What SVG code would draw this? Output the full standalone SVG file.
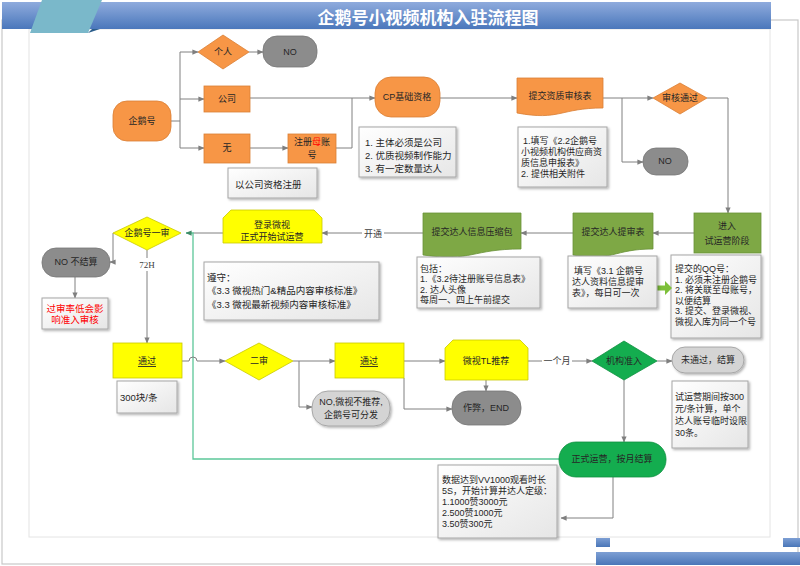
<svg xmlns="http://www.w3.org/2000/svg" width="800" height="566" viewBox="0 0 800 566">
<defs>
<linearGradient id="gtitle" x1="0" y1="0" x2="0" y2="1"><stop offset="0" stop-color="#8fabdd"/><stop offset="1" stop-color="#4a77bb"/></linearGradient>
<linearGradient id="gbox" x1="0" y1="0" x2="1" y2="1"><stop offset="0" stop-color="#ffffff"/><stop offset="1" stop-color="#e6e6e6"/></linearGradient>
<linearGradient id="gdeco" x1="0" y1="0" x2="0" y2="1"><stop offset="0" stop-color="#7d9fd4"/><stop offset="1" stop-color="#4a76b8"/></linearGradient>
<filter id="sh" x="-10%" y="-10%" width="130%" height="130%"><feDropShadow dx="1.5" dy="1.5" stdDeviation="1.2" flood-color="#000" flood-opacity="0.3"/></filter>
<marker id="ah" viewBox="0 0 8 8" refX="7.5" refY="4" markerWidth="6" markerHeight="6" orient="auto" markerUnits="userSpaceOnUse"><path d="M0,0.5 L8,4 L0,7.5 Z" fill="#7f7f7f"/></marker>
<marker id="ahg" viewBox="0 0 8 8" refX="7.5" refY="4" markerWidth="6" markerHeight="6" orient="auto" markerUnits="userSpaceOnUse"><path d="M0,0.5 L8,4 L0,7.5 Z" fill="#3f8a68"/></marker>
</defs>
<style>
.ln{stroke:#808080;stroke-width:1;fill:none}
.ar{marker-end:url(#ah)}
.gl{stroke:#5cc799;stroke-width:1.3;fill:none}
.or{fill:#f79646;stroke:#d97f35;stroke-width:0.8}
.ye{fill:#ffff00;stroke:#c9c900;stroke-width:0.8}
.ol{fill:#7ea845;stroke:#6a9238;stroke-width:0.8}
.gr{fill:#14ad4f;stroke:#0f9140;stroke-width:0.8}
.gy{fill:#8c8c8c;stroke:#777;stroke-width:0.8}
.lg{fill:#d4d4d4;stroke:#9a9a9a;stroke-width:0.8;filter:url(#sh)}
.bx{fill:url(#gbox);stroke:#a6a6a6;stroke-width:1;filter:url(#sh)}
text{font-family:"Liberation Sans","Noto Sans CJK SC",sans-serif;fill:#262626}
.t{font-size:9px;text-anchor:middle;dominant-baseline:central}
.b{font-size:9.5px;dominant-baseline:central}
.s{font-size:9px;dominant-baseline:central}
.lb{font-size:9px;text-anchor:middle;dominant-baseline:central;fill:#404040}
.u{text-decoration:underline}
</style>
<rect x="0" y="0" width="800" height="566" fill="#ffffff"/>
<rect x="2" y="20" width="796" height="544" fill="none" stroke="#c8c8c8" stroke-width="1.2"/>
<rect x="29" y="29" width="741" height="508" fill="none" stroke="#e4e4e4" stroke-width="1"/>
<g id="title">
<rect x="2" y="2" width="769" height="27" fill="url(#gtitle)"/>
<path d="M42,0 L102,0 L88,33 L30,33 Z" fill="#7ab8ca"/>
<path d="M88,33 L100,29 L92,29 Z" fill="#2c5e8c"/>
<text x="428" y="16" font-size="17" font-weight="bold" text-anchor="middle" dominant-baseline="central" style="fill:#ffffff;font-family:'Noto Sans CJK SC',sans-serif">企鹅号小视频机构入驻流程图</text>
</g>
<g id="deco">
<rect x="596" y="538" width="14" height="9" fill="url(#gdeco)"/>
<rect x="783" y="538" width="17" height="9" fill="url(#gdeco)"/>
<rect x="596" y="552" width="204" height="13" fill="url(#gdeco)"/>
</g>
<g id="connectors">
<path class="ln" d="M171,121 H180"/>
<path class="ln" d="M180,52 V148"/>
<path class="ln ar" d="M180,52 H198"/>
<path class="ln ar" d="M180,99 H204"/>
<path class="ln ar" d="M180,148 H204"/>
<path class="ln ar" d="M249,52 H263"/>
<path class="ln ar" d="M250,148 H288"/>
<path class="ln" d="M336,148 H352 V98"/>
<path class="ln ar" d="M250,98 H375"/>
<path class="ln ar" d="M440,98 H517"/>
<path class="ln ar" d="M603,98 H653"/>
<path class="ln ar" d="M622,98 V162 H643"/>
<path class="ln ar" d="M707,98 H728 V213"/>
<path class="ln ar" d="M694,233 H653"/>
<path class="ln ar" d="M573,233 H521"/>
<path class="ln ar" d="M423,233 H322"/>
<path class="ln" d="M223,233 H193"/>
<path class="gl" d="M559,459 H193 V233 H186" style="marker-end:url(#ahg)"/>
<path class="ln ar" d="M113,233 V262 H110"/>
<path class="ln ar" d="M75,277 V298"/>
<path class="ln ar" d="M147,250 V343"/>
<path class="ln ar" d="M182,361 H189 A4,4 0 0 1 197,361 H225"/>
<path class="ln ar" d="M293,361 H335"/>
<path class="ln ar" d="M299,361 V407 H312"/>
<path class="ln ar" d="M404,361 H445"/>
<path class="ln ar" d="M404,378 V409 H452"/>
<path class="ln ar" d="M486,380 V391"/>
<path class="ln ar" d="M528,361 H592"/>
<path class="ln ar" d="M657,361 H672"/>
<path class="ln ar" d="M624,380 V442"/>
<path class="ln ar" d="M613,477 V518 H561"/>
<rect x="362" y="227" width="22" height="13" fill="#ffffff"/>
<text class="lb" x="373" y="234">开通</text>
<rect x="138" y="258" width="19" height="13" fill="#ffffff"/>
<text class="lb" x="147" y="265" style="font-family:'Liberation Serif',serif">72H</text>
<rect x="542" y="354" width="30" height="13" fill="#ffffff"/>
<text class="lb" x="557" y="361">一个月</text>
</g>
<g id="n-qeh"><rect class="or" x="113" y="101" width="58" height="40" rx="14"/><text class="t" x="142" y="121">企鹅号</text></g>
<g id="n-geren"><path class="or" d="M198,52 L223,35 L249,52 L223,69 Z"/><text class="t" x="223" y="52">个人</text></g>
<g id="n-no1"><rect class="gy" x="263" y="36" width="54" height="31" rx="14"/><text class="t" x="290" y="52">NO</text></g>
<g id="n-gongsi"><rect class="or" x="204" y="86" width="46" height="26"/><text class="t" x="227" y="99">公司</text></g>
<g id="n-wu"><rect class="or" x="204" y="134" width="46" height="29"/><text class="t" x="227" y="148">无</text></g>
<g id="n-zhuce"><rect class="or" x="288" y="134" width="48" height="29"/><text class="t" x="312" y="142">注册<tspan style="fill:#ff0000">母</tspan>账<tspan x="312" dy="13">号</tspan></text></g>
<g id="b-yigongsi"><rect class="bx" x="228" y="168" width="89" height="30"/><text class="b" x="235" y="184">以公司资格注册</text></g>
<g id="n-cp"><rect class="or" x="375" y="77" width="65" height="40" rx="16"/><text class="t" x="407" y="97">CP基础资格</text></g>
<g id="b-cp"><rect class="bx" x="359" y="127" width="97" height="50"/><text class="b" x="365" y="142">1. 主体必须是公司<tspan x="365" dy="13">2. 优质视频制作能力</tspan><tspan x="365" dy="13">3. 有一定数量达人</tspan></text></g>
<g id="n-tjzz"><path class="or" d="M517,78 H603 V108 C560,108 560,121 517,113 Z"/><text class="t" x="560" y="96">提交资质审核表</text></g>
<g id="b-tjzz"><rect class="bx" x="518" y="127" width="89" height="60"/><text class="s" x="523" y="141">1.填写《2.2企鹅号<tspan x="521" dy="11">小视频机构供应商资</tspan><tspan x="521" dy="11">质信息申报表》</tspan><tspan x="521" dy="11">2. 提供相关附件</tspan></text></g>
<g id="n-shtg"><path class="or" d="M653,98 L680,83 L707,98 L680,114 Z"/><text class="t" x="680" y="98">审核通过</text></g>
<g id="n-no2"><rect class="gy" x="643" y="148" width="45" height="27" rx="13"/><text class="t" x="665" y="161">NO</text></g>
<g id="n-jinru"><rect class="ol" x="694" y="213" width="67" height="40"/><text class="t" x="727" y="226">进入<tspan x="727" dy="15">试运营阶段</tspan></text></g>
<g id="b-qq"><rect class="bx" x="671" y="255" width="90" height="83"/><text class="s" x="675" y="269">提交的QQ号：<tspan x="675" dy="10.6">1. 必须未注册企鹅号</tspan><tspan x="675" dy="10.6">2. 将关联至母账号，</tspan><tspan x="675" dy="10.6">以便结算</tspan><tspan x="675" dy="10.6">3. 提交、登录微视、</tspan><tspan x="675" dy="10.6">微视入库为同一个号</tspan></text></g>
<g id="greenarrow"><path d="M655,285.5 H665 V281 L672,288 L665,295 V290.5 H655 Z" fill="#7ec03a"/></g>
<g id="n-tjts"><path class="ol" d="M573,213 H653 V249 C613,249 613,262 573,255 Z"/><text class="t" x="613" y="232">提交达人提审表</text></g>
<g id="b-tjts"><rect class="bx" x="568" y="256" width="89" height="52"/><text class="s" x="574" y="271">填写《3.1 企鹅号<tspan x="572" dy="11">达人资料信息提审</tspan><tspan x="572" dy="11">表》，每日可一次</tspan></text></g>
<g id="n-tjys"><path class="ol" d="M423,213 H521 V249 C472,249 472,262 423,255 Z"/><text class="t" x="472" y="232">提交达人信息压缩包</text></g>
<g id="b-tjys"><rect class="bx" x="417" y="257" width="123" height="51"/><text class="s" x="420" y="268.5">包括：<tspan x="420" dy="10.6">1.《3.2待注册账号信息表》</tspan><tspan x="420" dy="10.6">2. 达人头像</tspan><tspan x="420" dy="10.6">每周一、四上午前提交</tspan></text></g>
<g id="n-dlws"><path class="ye" d="M223,218 L231,210 H314 L322,218 V243 H223 Z"/><text class="t" x="272" y="225">登录微视<tspan x="272" dy="12">正式开始试运营</tspan></text></g>
<g id="b-zs"><rect class="bx" x="204" y="262" width="175" height="58"/><text class="b" x="207" y="277">遵守：<tspan x="207" dy="13">《3.3 微视热门&amp;精品内容审核标准》</tspan><tspan x="207" dy="14">《3.3 微视最新视频内容审核标准》</tspan></text></g>
<g id="n-ys1"><path class="ye" d="M113,233 L147,217 L181,233 L147,250 Z"/><text class="t" x="147" y="233">企鹅号一审</text></g>
<g id="n-nobjs"><rect class="gy" x="42" y="248" width="68" height="29" rx="14"/><text class="t" x="76" y="262">NO 不结算</text></g>
<g id="b-red"><rect class="bx" x="42" y="298" width="66" height="31"/><text class="t" x="75" y="308" style="fill:#ff0000;font-size:9.5px">过审率低会影<tspan x="75" dy="11">响准入审核</tspan></text></g>
<g id="n-tg1"><rect class="ye" x="113" y="343" width="69" height="35"/><text class="t u" x="147" y="361">通过</text></g>
<g id="b-300"><rect class="bx" x="117" y="381" width="60" height="32"/><text class="b" x="120" y="397">300块/条</text></g>
<g id="n-es"><path class="ye" d="M225,361 L259,343 L293,361 L259,380 Z"/><text class="t" x="259" y="361">二审</text></g>
<g id="n-nows"><rect class="lg" x="312" y="391" width="78" height="35" rx="16"/><text class="t" x="351" y="402">NO,微视不推荐,<tspan x="351" dy="13">企鹅号可分发</tspan></text></g>
<g id="n-tg2"><rect class="ye" x="335" y="343" width="69" height="35"/><text class="t u" x="369" y="361">通过</text></g>
<g id="n-tl"><path class="ye" d="M445,348 L453,340 H520 L528,348 V380 H445 Z"/><text class="t" x="486" y="361">微视TL推荐</text></g>
<g id="n-zb"><rect class="gy" x="452" y="391" width="69" height="34" rx="16"/><text class="t" x="486" y="408">作弊，END</text></g>
<g id="n-jgzr"><path class="gr" d="M592,361 L624,341 L657,361 L624,380 Z"/><text class="t" x="624" y="361">机构准入</text></g>
<g id="n-wtg"><rect class="lg" x="672" y="347" width="72" height="26" rx="13"/><text class="t" x="708" y="360">未通过，结算</text></g>
<g id="b-syy"><rect class="bx" x="672" y="381" width="76" height="67"/><text class="s" x="675" y="397">试运营期间按300<tspan x="675" dy="12">元/条计算，单个</tspan><tspan x="675" dy="12">达人账号临时设限</tspan><tspan x="675" dy="12">30条。</tspan></text></g>
<g id="n-zsyy"><rect class="gr" x="559" y="442" width="107" height="35" rx="17"/><text class="t" x="612" y="459">正式运营，按月结算</text></g>
<g id="b-sj"><rect class="bx" x="438" y="465" width="119" height="73"/><text class="s" x="442" y="480">数据达到VV1000观看时长<tspan x="442" dy="11">5S，开始计算并达人定级：</tspan><tspan x="442" dy="11">1.1000赞3000元</tspan><tspan x="442" dy="11">2.500赞1000元</tspan><tspan x="442" dy="11">3.50赞300元</tspan></text></g>
</svg>
